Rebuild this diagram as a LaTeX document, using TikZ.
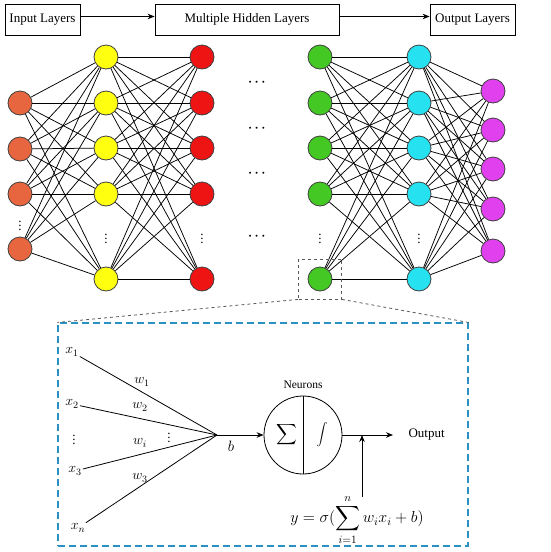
\RequirePackage{fix-cm}
\documentclass[tikz,border=0pt]{standalone}
\usepackage{fontspec}
\setmainfont{Liberation Serif}
\usepackage{amsmath}
\usetikzlibrary{arrows.meta,positioning}

\definecolor{laranja}{HTML}{E8663F}
\definecolor{amarelo}{HTML}{FFFF10}
\definecolor{vermelho}{HTML}{EE1414}
\definecolor{verde}{HTML}{44C824}
\definecolor{ciano}{HTML}{26E2F0}
\definecolor{roxo}{HTML}{E040EE}
\definecolor{azultrac}{HTML}{2A92C2}

\begin{document}
\begin{tikzpicture}[
    x=1pt, y=-1pt,
    >={Stealth[length=7pt,width=5.5pt]},
    caixa/.style={rectangle, draw=black, line width=0.8pt, minimum height=31pt, font=\fontsize{13}{15}\selectfont},
    neuronio/.style={circle, draw=black!75, line width=0.8pt, minimum size=24pt, inner sep=0pt},
    ligacao/.style={line width=0.75pt, black},
    pontos/.style={inner sep=0pt, font=\fontsize{13}{15}\selectfont\boldmath},
    seta/.style={->, line width=0.8pt},
    rotulo/.style={inner sep=1pt, font=\fontsize{14}{16}\selectfont}
]
\useasboundingbox (0,0) rectangle (550,552);

% Caixas do topo
\node[caixa, minimum width=75pt] (entrada) at (42.5,19.5) {Input Layers};
\node[caixa, minimum width=184pt] (ocultas) at (247,19.5) {Multiple Hidden Layers};
\node[caixa, minimum width=85pt] (saidas) at (472.5,19.5) {Output Layers};
\draw[seta] ([yshift=3pt]entrada.east) -- ([yshift=3pt]ocultas.west);
\draw[seta] ([yshift=3pt]ocultas.east) -- ([yshift=3pt]saidas.west);

% Camada de entrada
\foreach \n/\y in {1/103,2/149,3/194,4/249}
  \node[neuronio, fill=laranja] (e\n) at (20,\y) {};
\node[pontos] (e-pontos) at (20,223) {$\vdots$};

% Camadas ocultas
\foreach \c/\x/\cor in {a/106/amarelo, b/202/vermelho, c/320/verde, d/419/ciano} {
  \foreach \n/\y in {1/57,2/103,3/148,4/194,5/279}
    \node[neuronio, fill=\cor] (\c\n) at (\x,\y) {};
  \node[pontos] (\c-pontos) at (\x,236) {$\vdots$};
}
\foreach \y [count=\k] in {82,128,173,236}
  \node[pontos] (meio\k) at (258,\y) {$\cdots$};

% Camada de saida
\foreach \n/\y in {1/91,2/130,3/169,4/209,5/251}
  \node[neuronio, fill=roxo] (s\n) at (493,\y) {};

% Ligacoes
\foreach \i in {1,...,4}
  \foreach \j in {1,...,5}
    \draw[ligacao] (e\i) -- (a\j);
\foreach \i in {1,...,5}
  \foreach \j in {1,...,5} {
    \draw[ligacao] (a\i) -- (b\j);
    \draw[ligacao] (c\i) -- (d\j);
    \draw[ligacao] (d\i) -- (s\j);
  }

% Ampliacao do neuronio
\node[draw=black!65, dashed, line width=0.8pt, minimum width=43pt, minimum height=40pt, inner sep=0pt] (lupa) at (c5) {};
\node[draw=azultrac, line width=1.1pt, dash pattern=on 7pt off 4pt, minimum width=410pt, minimum height=223pt, inner sep=0pt] (quadro) at (263,434.5) {};
\draw[black!65, dashed, line width=0.8pt] (lupa.south west) -- (quadro.north west);
\draw[black!65, dashed, line width=0.8pt] (lupa.south east) -- (quadro.north east);

% Entradas e pesos
\coordinate (juncao) at (217,435);
\node[rotulo] (x1) at (72,352) {$x_1$};
\node[rotulo] (x2) at (72,404) {$x_2$};
\node[pontos] (x-pontos) at (74,437) {$\vdots$};
\node[rotulo] (x3) at (75,471) {$x_3$};
\node[rotulo] (xn) at (78,528) {$x_n$};
\foreach \v in {x1,x2,x3,xn}
  \draw[line width=0.8pt] (\v) -- (juncao);
\node[rotulo] (w1) at (142,382) {$w_1$};
\node[rotulo] (w2) at (140,407) {$w_2$};
\node[pontos] (w-pontos) at (169,435) {$\vdots$};
\node[rotulo] (wi) at (140,443) {$w_i$};
\node[rotulo] (w3) at (140,478) {$w_3$};

% Neuronio
\node[circle, draw=black, line width=0.8pt, minimum size=78pt, inner sep=0pt] (neu) at (303,435) {};
\draw[line width=0.8pt] (neu.north) -- (neu.south);
\node[font=\fontsize{15}{17}\selectfont] (soma) at (287,435) {$\displaystyle\sum$};
\node[font=\fontsize{11}{13}\selectfont] (ativ) at (322,435) {$\displaystyle\int$};
\node[font=\fontsize{11.5}{13}\selectfont, above=3pt of neu] (neurons) {Neurons};
\draw[seta] (juncao) -- node[rotulo, pos=0.3, below=5pt, font=\fontsize{15}{17}\selectfont] (b) {$b$} (neu);

% Saida e formula
\coordinate (ponta) at (393,435);
\node[font=\fontsize{13}{15}\selectfont, right=12pt of ponta] (saida) {Output};
\draw[seta] (neu) -- (ponta);
\node[font=\fontsize{16}{18}\selectfont] (formula) at (357,520) {$\displaystyle y=\sigma(\sum_{i=1}^{n} w_i x_i + b)$};
\coordinate (sobe) at (362,497);
\draw[seta] (sobe) -- (sobe |- ponta);

\end{tikzpicture}
\end{document}
